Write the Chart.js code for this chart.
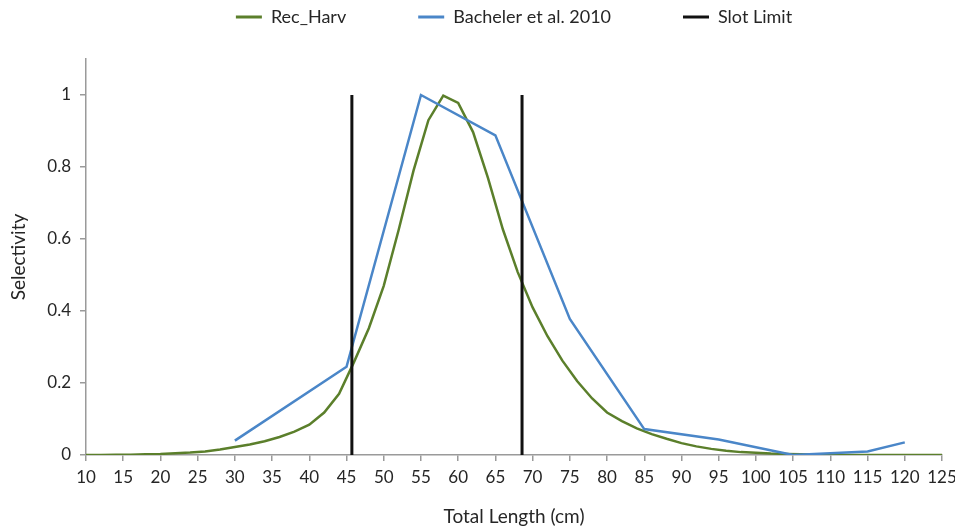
<!DOCTYPE html>
<html><head><meta charset="utf-8">
<script src="https://cdn.jsdelivr.net/npm/chart.js@4.4.1/dist/chart.umd.min.js"></script>
<style>html,body{margin:0;padding:0;background:#fff}</style>
</head><body>
<canvas id="c" width="955" height="532" style="display:block;width:955px;height:532px"></canvas>
<script>
// ---- data ----
const seriesNames = ['Rec_Harv', 'Bacheler et al. 2010', 'Slot Limit'];
const recLengths = [10,12,14,16,18,20,22,24,26,28,30,32,34,36,38,40,42,44,46,48,50,52,54,56,58,60,62,64,66,68,70,72,74,76,78,80,82,84,86,88,90,92,94,96,98,100,102,104,106,108,110,112,114,116,118,120,122,124,126];
const recSelectivity = [0,0,0.001,0.001,0.002,0.003,0.005,0.007,0.010,0.015,0.022,0.029,0.038,0.050,0.065,0.084,0.118,0.170,0.258,0.352,0.470,0.625,0.790,0.930,0.998,0.978,0.897,0.770,0.627,0.508,0.410,0.330,0.262,0.205,0.157,0.118,0.094,0.074,0.058,0.045,0.033,0.024,0.017,0.012,0.008,0.006,0.004,0.003,0.002,0.001,0.001,0,0,0,0,0,0,0,0];
const bachelerLengths = [30,45,55,65,75,85,95,105,115,120];
const bachelerSelectivity = [0.040,0.245,1.0,0.888,0.378,0.072,0.043,0.0,0.010,0.035];
const slotLimits = [45.72, 68.58];
const slotRange = [0, 1];
const xTicks = [10,15,20,25,30,35,40,45,50,55,60,65,70,75,80,85,90,95,100,105,110,115,120,125];
const yTicks = [0,0.2,0.4,0.6,0.8,1];
const yTickLabels = ['0','0.2','0.4','0.6','0.8','1'];
const xTitle = 'Total Length (cm)';
const yTitle = 'Selectivity';

// ---- build ----
const toPts = (xs, ys) => xs.map((x, i) => ({x: x, y: ys[i]}));
const slotPts = [];
slotLimits.forEach((s, i) => {
  if (i > 0) slotPts.push({x: (slotLimits[i-1] + s) / 2, y: null});
  slotPts.push({x: s, y: slotRange[0]}, {x: s, y: slotRange[1]});
});

const FONT = 'Lato, "Open Sans", "Liberation Sans", sans-serif';
const TXT = '#262626';
const AX = '#9a9a9a';
const LEG_PAD = 72;
const LEG_FONT = 18;
const LEG_H = 59;

const legendPlace = {
  id: 'legendPlace',
  beforeLayout(chart) {
    const lg = chart.legend;
    if (lg && !lg._fixedFit) {
      const orig = lg.fit.bind(lg);
      lg.fit = function () { orig(); this.height = LEG_H; };
      lg._fixedFit = true;
    }
  },
  afterLayout(chart) {
    const lg = chart.legend, ca = chart.chartArea;
    if (!lg) return;
    lg.left = ca.left; lg.right = ca.right;
    lg.top = 17 - LEG_FONT / 2 - LEG_PAD;
    lg.bottom = LEG_H;
  }
};

new Chart(document.getElementById('c'), {
  type: 'line',
  data: {
    datasets: [
      {label: seriesNames[0], data: toPts(recLengths, recSelectivity), borderColor: '#5b7f2b', backgroundColor: '#5b7f2b', borderWidth: 2.5, pointRadius: 0, tension: 0, order: 2},
      {label: seriesNames[1], data: toPts(bachelerLengths, bachelerSelectivity), borderColor: '#4a86c8', backgroundColor: '#4a86c8', borderWidth: 2.5, pointRadius: 0, tension: 0, order: 1},
      {label: seriesNames[2], data: slotPts, borderColor: '#111111', backgroundColor: '#111111', borderWidth: 3, pointRadius: 0, tension: 0, spanGaps: false, order: 0}
    ]
  },
  options: {
    responsive: false,
    animation: false,
    devicePixelRatio: 1,
    layout: {padding: {top: 0, left: 0, right: 13, bottom: 0}},
    plugins: {
      tooltip: {enabled: false},
      legend: {
        position: 'top',
        labels: {
          boxWidth: 26, boxHeight: 3, padding: LEG_PAD, color: TXT,
          font: {family: FONT, size: LEG_FONT},
          sort: (a, b) => a.datasetIndex - b.datasetIndex,
          generateLabels: chart => Chart.defaults.plugins.legend.labels.generateLabels(chart)
            .map(it => Object.assign(it, {lineWidth: 0}))
        }
      }
    },
    scales: {
      x: {
        type: 'linear', min: 10, max: 125,
        afterBuildTicks: s => { s.ticks = xTicks.map(v => ({value: v})); },
        afterFit: s => { s.height = 77; s.paddingRight = 0; s.paddingLeft = 0; },
        grid: {drawOnChartArea: false, drawTicks: true, tickLength: 6, color: AX, lineWidth: 1.5},
        border: {color: AX, width: 1.5},
        ticks: {color: TXT, font: {family: FONT, size: 17}, padding: 6, maxRotation: 0, autoSkip: false},
        title: {display: true, text: xTitle, color: TXT, font: {family: FONT, size: 19}, padding: {top: 0, bottom: 4}}
      },
      y: {
        type: 'linear', min: 0, max: 1.1,
        afterBuildTicks: s => { s.ticks = yTicks.map(v => ({value: v})); },
        afterFit: s => { s.width = 86; },
        grid: {drawOnChartArea: false, drawTicks: true, tickLength: 6, color: AX, lineWidth: 1.5},
        border: {color: AX, width: 1.5},
        ticks: {color: TXT, font: {family: FONT, size: 17}, padding: 9,
                callback: (v, i) => yTickLabels[i]},
        title: {display: true, text: yTitle, color: TXT, font: {family: FONT, size: 19}, padding: {top: 7, bottom: 0}}
      }
    }
  },
  plugins: [legendPlace]
});
</script>
</body></html>
